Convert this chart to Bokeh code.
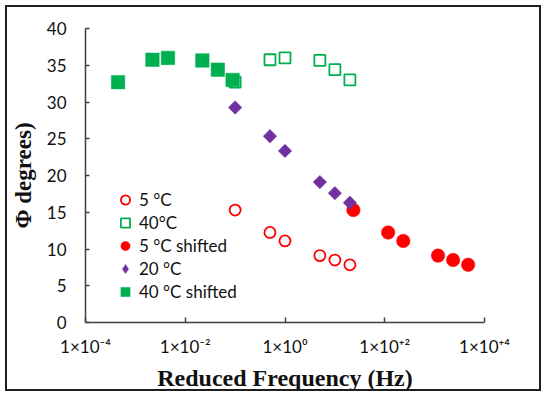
import numpy as np
from bokeh.plotting import figure
from bokeh.models import FixedTicker, Legend, LegendItem
from bokeh.embed import file_html
from bokeh.resources import INLINE

# ---- data ----
freq_hz = [0.1, 0.5, 1, 5, 10, 20]
freq_40_shifted = [4.5e-4, 2.2e-3, 4.5e-3, 2.2e-2, 4.5e-2, 8.9e-2]
freq_5_shifted = [23.5, 117, 235, 1170, 2350, 4700]

phi_5C = [15.3, 12.25, 11.1, 9.1, 8.5, 7.85]
phi_40C = [32.7, 35.75, 36.0, 35.65, 34.4, 33.0]
phi_5C_shifted = [15.3, 12.25, 11.1, 9.1, 8.5, 7.85]
phi_20C = [29.25, 25.35, 23.35, 19.1, 17.6, 16.3]
phi_40C_shifted = [32.7, 35.75, 36.0, 35.65, 34.4, 33.0]

x_tick_values = [1e-4, 1e-2, 1, 1e2, 1e4]
x_tick_labels = ["1×10⁻⁴", "1×10⁻²", "1×10⁰", "1×10⁺²", "1×10⁺⁴"]
y_tick_values = [0, 5, 10, 15, 20, 25, 30, 35, 40]

RED = "#FF0000"
GREEN = "#00B050"
PURPLE = "#7030A0"
SANS = "Lato"
SERIF = "Liberation Serif"

p = figure(width=536, height=386, x_axis_type="log",
           x_range=(1e-4, 1e4), y_range=(0, 40),
           output_backend="svg", toolbar_location=None,
           min_border_left=78, min_border_right=59,
           min_border_top=21, min_border_bottom=70)
p.styles = {"border": "2px solid #1e1e1e", "margin": "5px 0 0 5px"}
p.outline_line_color = None
p.xgrid.visible = False
p.ygrid.visible = False
p.background_fill_color = "white"

r1 = p.scatter(freq_hz, phi_5C, marker="circle", size=11, fill_color="white",
               line_color=RED, line_width=1.8)
r2 = p.scatter(freq_hz, phi_40C, marker="square", size=11, fill_color="white",
               line_color=GREEN, line_width=1.8)
r3 = p.scatter(freq_5_shifted, phi_5C_shifted, marker="circle", size=13.5,
               fill_color=RED, line_color=RED, line_width=0.5)
# zero-size twin of the 20 °C series, only used to draw a diamond in the legend
r4_key = p.scatter(freq_hz, phi_20C, marker="diamond", size=0,
                   fill_color=PURPLE, line_color=PURPLE, line_width=0.5)
r4 = p.scatter(freq_hz, phi_20C, marker="square", angle=np.pi / 4, size=9.5,
               fill_color=PURPLE, line_color=PURPLE, line_width=0.5)
r5 = p.scatter(freq_40_shifted, phi_40C_shifted, marker="square", size=13.5,
               fill_color=GREEN, line_color=GREEN, line_width=0.5)

# axes
xa = p.xaxis[0]
xa.ticker = FixedTicker(ticks=x_tick_values, minor_ticks=[])
xa.major_label_overrides = dict(zip(x_tick_values, x_tick_labels))
ya = p.yaxis[0]
ya.ticker = FixedTicker(ticks=y_tick_values, minor_ticks=[])

for ax in (xa, ya):
    ax.axis_line_color = "#404040"
    ax.axis_line_width = 1.5
    ax.major_tick_line_color = "#404040"
    ax.major_tick_line_width = 1.5
    ax.major_tick_out = 0
    ax.minor_tick_line_color = None
    ax.major_label_text_font = SANS
    ax.major_label_text_color = "#111111"
    ax.axis_label_text_font = SERIF
    ax.axis_label_text_font_style = "bold"
    ax.axis_label_text_color = "#111111"

xa.major_tick_in = 5
xa.major_label_text_font_size = "17px"
xa.major_label_standoff = 13
xa.axis_label = "Reduced Frequency (Hz)"
xa.axis_label_text_font_size = "24px"
xa.axis_label_standoff = 5

ya.major_tick_in = 4
ya.major_label_text_font_size = "17px"
ya.major_label_standoff = 19
ya.axis_label = "Φ degrees)"
ya.axis_label_text_font_size = "23px"
ya.axis_label_standoff = 8

legend = Legend(items=[
    LegendItem(label="5 °C", renderers=[r1]),
    LegendItem(label="40°C", renderers=[r2]),
    LegendItem(label="5 °C shifted", renderers=[r3]),
    LegendItem(label="20 °C", renderers=[r4_key]),
    LegendItem(label="40 °C shifted", renderers=[r5]),
], location=(26, 19))
legend.glyph_width = 28
legend.glyph_height = 23
legend.label_height = 20
legend.spacing = 0
legend.padding = 0
legend.margin = 0
legend.label_standoff = -2
legend.border_line_color = None
legend.background_fill_alpha = 0
legend.label_text_font = SANS
legend.label_text_font_size = "17px"
legend.label_text_color = "#111111"
p.add_layout(legend, "center")

open("out.html", "w").write(file_html(p, INLINE))
